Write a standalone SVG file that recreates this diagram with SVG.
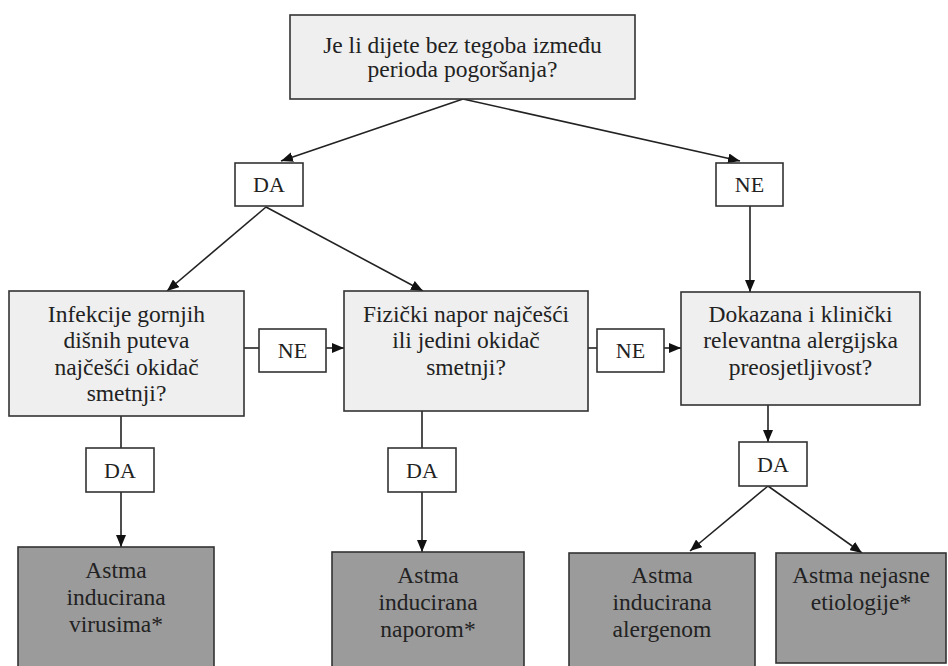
<svg xmlns="http://www.w3.org/2000/svg" width="948" height="666" viewBox="0 0 948 666">
  <style>
    .q { fill: #efefef; stroke: #333; stroke-width: 1.6; }
    .lbl { fill: #ffffff; stroke: #333; stroke-width: 1.6; }
    .res { fill: #9b9b9b; stroke: #333; stroke-width: 1.6; }
    .tx { font-family: "Liberation Serif", "Times New Roman", Times, serif; font-size: 23.5px; fill: #222; text-anchor: middle; }
    .s { font-family: "Liberation Serif", "Times New Roman", Times, serif; font-size: 22px; fill: #222; text-anchor: middle; }
    .c { stroke: #222; stroke-width: 1.6; fill: none; }
    .a { marker-end: url(#ah); }
  </style>
  <defs>
    <marker id="ah" viewBox="0 0 12 10" refX="12" refY="5" markerWidth="12" markerHeight="10" markerUnits="userSpaceOnUse" orient="auto">
      <path d="M0,0 L12,5 L0,10 z" fill="#111"/>
    </marker>
  </defs>
  <rect width="948" height="666" fill="#ffffff"/>

  <g id="connectors">
    <line class="c a" x1="463" y1="99" x2="281" y2="161"/>
    <line class="c a" x1="463" y1="99" x2="740" y2="161"/>
    <line class="c a" x1="266" y1="207" x2="167" y2="291"/>
    <line class="c a" x1="266" y1="207" x2="423" y2="291"/>
    <line class="c" x1="244" y1="348" x2="259" y2="348"/>
    <line class="c a" x1="326" y1="348" x2="344" y2="348"/>
    <line class="c" x1="588" y1="348" x2="597" y2="348"/>
    <line class="c a" x1="664" y1="348" x2="681" y2="348"/>
    <line class="c a" x1="750" y1="206" x2="750" y2="292"/>
    <line class="c" x1="121" y1="416" x2="121" y2="448"/>
    <line class="c a" x1="121" y1="492" x2="121" y2="547"/>
    <line class="c" x1="422" y1="411" x2="422" y2="448"/>
    <line class="c a" x1="422" y1="492" x2="422" y2="552"/>
    <line class="c a" x1="768" y1="405" x2="768" y2="442"/>
    <line class="c a" x1="768" y1="486" x2="690" y2="551"/>
    <line class="c a" x1="768" y1="486" x2="862" y2="553"/>
  </g>

  <g id="q0">
    <rect class="q" x="290" y="15" width="345" height="84"/>
    <text class="tx" x="462.5" y="53">Je li dijete bez tegoba između</text>
    <text class="tx" x="462.5" y="77">perioda pogoršanja?</text>
  </g>
  <g id="da-top">
    <rect class="lbl" x="235" y="163" width="68" height="43"/>
    <text class="s" x="269" y="192">DA</text>
  </g>
  <g id="ne-top">
    <rect class="lbl" x="716" y="163" width="67" height="43"/>
    <text class="s" x="749.5" y="192">NE</text>
  </g>
  <g id="q1">
    <rect class="q" x="9" y="291" width="235" height="125"/>
    <text class="tx" x="126.5" y="322">Infekcije gornjih</text>
    <text class="tx" x="126.5" y="348">dišnih puteva</text>
    <text class="tx" x="126.5" y="375">najčešći okidač</text>
    <text class="tx" x="126.5" y="401">smetnji?</text>
  </g>
  <g id="ne-1">
    <rect class="lbl" x="259" y="329" width="67" height="43"/>
    <text class="s" x="292.5" y="358">NE</text>
  </g>
  <g id="q2">
    <rect class="q" x="344" y="291" width="244" height="120"/>
    <text class="tx" x="466" y="322">Fizički napor najčešći</text>
    <text class="tx" x="466" y="348">ili jedini okidač</text>
    <text class="tx" x="466" y="375">smetnji?</text>
  </g>
  <g id="ne-2">
    <rect class="lbl" x="597" y="329" width="67" height="43"/>
    <text class="s" x="630.5" y="358">NE</text>
  </g>
  <g id="q3">
    <rect class="q" x="681" y="292" width="239" height="113"/>
    <text class="tx" x="800.5" y="322">Dokazana i klinički</text>
    <text class="tx" x="800.5" y="348">relevantna alergijska</text>
    <text class="tx" x="800.5" y="375">preosjetljivost?</text>
  </g>
  <g id="da-1">
    <rect class="lbl" x="86" y="448" width="68" height="44"/>
    <text class="s" x="120" y="478">DA</text>
  </g>
  <g id="da-2">
    <rect class="lbl" x="388" y="448" width="68" height="44"/>
    <text class="s" x="422" y="478">DA</text>
  </g>
  <g id="da-3">
    <rect class="lbl" x="739" y="442" width="68" height="44"/>
    <text class="s" x="773" y="472">DA</text>
  </g>
  <g id="r1">
    <rect class="res" x="18" y="547" width="196" height="130"/>
    <text class="tx" x="116" y="578">Astma</text>
    <text class="tx" x="116" y="605">inducirana</text>
    <text class="tx" x="116" y="632">virusima*</text>
  </g>
  <g id="r2">
    <rect class="res" x="332" y="552" width="192" height="130"/>
    <text class="tx" x="428" y="583">Astma</text>
    <text class="tx" x="428" y="610">inducirana</text>
    <text class="tx" x="428" y="637">naporom*</text>
  </g>
  <g id="r3">
    <rect class="res" x="569" y="553" width="186" height="130"/>
    <text class="tx" x="662" y="583">Astma</text>
    <text class="tx" x="662" y="610">inducirana</text>
    <text class="tx" x="662" y="637">alergenom</text>
  </g>
  <g id="r4">
    <rect class="res" x="776" y="553" width="170" height="110"/>
    <text class="tx" x="861" y="583">Astma nejasne</text>
    <text class="tx" x="861" y="610">etiologije*</text>
  </g>
</svg>
